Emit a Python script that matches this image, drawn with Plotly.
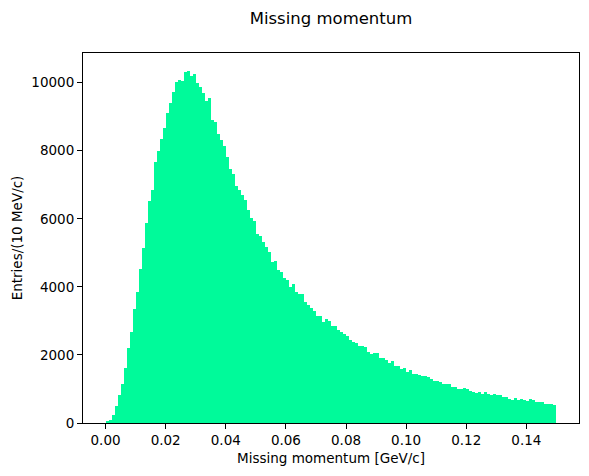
import numpy as np
import plotly.graph_objs as go

# histogram: 150 bins of 1 MeV/c between 0 and 0.15 GeV/c
BIN_LO = 0.0
BIN_HI = 0.15
COUNTS = [
    50, 90, 236, 501, 835, 1150, 1622, 2193, 2684, 3363,
    3835, 4513, 5152, 5870, 6519, 6843, 7670, 8004, 8348, 8673,
    9115, 9410, 9725, 10029, 10088, 10059, 10324, 10354, 10206, 10265,
    9990, 9872, 9686, 9449, 9558, 8909, 8850, 8496, 8319, 8142,
    7817, 7463, 7316, 6962, 6844, 6696, 6549, 6254, 6018, 5929,
    5546, 5487, 5310, 5162, 5015, 4720, 4749, 4484, 4425, 4248,
    4189, 3982, 4071, 3864, 3805, 3776, 3569, 3481, 3392, 3304,
    3156, 3156, 2979, 3068, 3009, 2861, 2861, 2743, 2684, 2625,
    2566, 2448, 2389, 2360, 2271, 2271, 2242, 2094, 2035, 2065,
    2065, 1917, 1917, 1858, 1770, 1829, 1681, 1681, 1593, 1622,
    1504, 1563, 1445, 1445, 1416, 1386, 1386, 1357, 1298, 1239,
    1239, 1209, 1150, 1150, 1150, 1062, 1062, 1003, 1003, 1032,
    1003, 944, 914, 885, 914, 855, 914, 855, 826, 855,
    826, 826, 767, 767, 708, 678, 737, 678, 708, 678,
    658, 717, 678, 619, 619, 619, 560, 560, 560, 531,
]
X_TICKS = [0.00, 0.02, 0.04, 0.06, 0.08, 0.10, 0.12, 0.14]
Y_TICKS = [0, 2000, 4000, 6000, 8000, 10000]

edges = np.linspace(BIN_LO, BIN_HI, len(COUNTS) + 1)
centers = (edges[:-1] + edges[1:]) / 2
width = edges[1] - edges[0]

FONT = "DejaVu Sans"

fig = go.Figure(
    data=[
        go.Bar(
            x=centers,
            y=COUNTS,
            width=width,
            marker=dict(color="#00FA9A", line=dict(width=0)),
        )
    ]
)

ymax = max(COUNTS) * 1.05
xpad = (BIN_HI - BIN_LO) * 0.05

# page body adds an 8px margin, so the figure is 8px smaller than the window
fig.update_layout(
    width=581,
    height=468,
    margin=dict(l=75, r=10, t=45, b=53),
    plot_bgcolor="white",
    paper_bgcolor="white",
    bargap=0,
    showlegend=False,
    hovermode=False,
    font=dict(family=FONT, size=13.5, color="black"),
    title=dict(
        text="Missing momentum",
        x=0.5,
        xref="paper",
        y=1 - 10 / 468,
        yref="container",
        yanchor="middle",
        font=dict(size=16.5, family=FONT, color="black"),
    ),
    xaxis=dict(
        range=[BIN_LO - xpad, BIN_HI + xpad],
        tickvals=X_TICKS,
        tickformat=".2f",
        ticks="outside",
        ticklen=5,
        tickcolor="black",
        showline=True,
        linecolor="black",
        linewidth=1.1,
        mirror=True,
        showgrid=False,
        zeroline=False,
        automargin=False,
        title=dict(text="Missing momentum [GeV/c]", font=dict(size=13.5), standoff=6),
    ),
    yaxis=dict(
        range=[0, ymax],
        tickvals=Y_TICKS,
        tickformat="d",
        ticks="outside",
        ticklen=5,
        tickcolor="black",
        showline=True,
        linecolor="black",
        linewidth=1.1,
        mirror=True,
        showgrid=False,
        zeroline=False,
        automargin=False,
        title=dict(text="Entries/(10 MeV/c)", font=dict(size=13.5), standoff=5),
    ),
)

fig.write_html("out.html")
